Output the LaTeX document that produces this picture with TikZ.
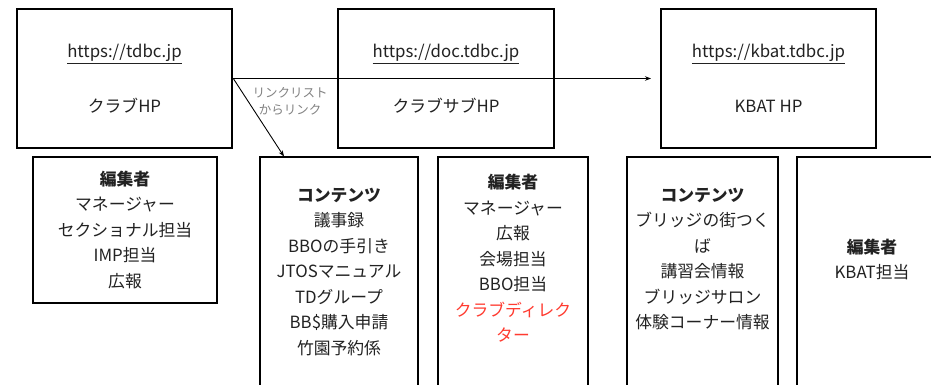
\documentclass[tikz,border=0pt]{standalone}
\usepackage{fontspec}
\setmainfont{Noto Sans CJK JP}
\usetikzlibrary{arrows.meta}
\definecolor{txt}{RGB}{34,34,34}
\definecolor{redtxt}{RGB}{255,59,48}
\definecolor{labelgray}{RGB}{130,130,130}
\tikzset{
  boxnode/.style={draw=black, line width=2.6pt, inner sep=0pt, rectangle},
  bodytext/.style={align=center, text=txt, inner sep=0pt, font=\fontsize{16.8}{25.5}\selectfont},
  linktext/.style={align=center, text=labelgray, inner sep=0pt, font=\fontsize{12.5}{17}\selectfont},
  conn/.style={line width=0.9pt, draw=black, -{Stealth[length=6pt,width=4.5pt]}},
}
\begin{document}
\begin{tikzpicture}[x=1pt,y=-1pt]
\useasboundingbox (0,0) rectangle (931,384);
\clip (0,0) rectangle (931,384);
\fill[white] (0,0) rectangle (931,384);
% top boxes
\node[boxnode, minimum width=215pt, minimum height=139pt] (hpA) at (124.5,78.5) {};
\node[boxnode, minimum width=216pt, minimum height=139pt] (hpB) at (446,78.5) {};
\node[boxnode, minimum width=215pt, minimum height=139pt] (hpC) at (768.5,78.5) {};
\node[bodytext] (urlA) at (124.5,54) {\underline{https://tdbc.jp}};
\node[bodytext] (nameA) at (124.5,106) {クラブHP};
\node[bodytext] (urlB) at (446,54) {\underline{https://doc.tdbc.jp}};
\node[bodytext] (nameB) at (446,106) {クラブサブHP};
\node[bodytext] (urlC) at (768.5,54) {\underline{https://kbat.tdbc.jp}};
\node[bodytext] (nameC) at (768.5,106) {KBAT HP};
% bottom boxes
\node[boxnode, minimum width=184pt, minimum height=146pt] (edA) at (125,230) {};
\node[boxnode, minimum width=158pt, minimum height=243pt] (conA) at (339,278.5) {};
\node[boxnode, minimum width=150pt, minimum height=243pt] (edB) at (513,278.5) {};
\node[boxnode, minimum width=151pt, minimum height=243pt] (conC) at (702.5,278.5) {};
\node[boxnode, minimum width=163pt, minimum height=243pt] (edC) at (878.5,278.5) {};
% texts
\node[bodytext] (tedA) at (125,229.5) {\textbf{編集者}\\マネージャー\\セクショナル担当\\IMP担当\\広報};
\node[bodytext] (tconA) at (339,272) {\textbf{コンテンツ}\\議事録\\BBOの手引き\\JTOSマニュアル\\TDグループ\\BB\$購入申請\\竹園予約係};
\node[bodytext] (tedB) at (513,258.5) {\textbf{編集者}\\マネージャー\\広報\\会場担当\\BBO担当\\\textcolor{redtxt}{クラブディレク}\\\textcolor{redtxt}{ター}};
\node[bodytext] (tconC) at (702.5,259) {\textbf{コンテンツ}\\ブリッジの街つく\\ば\\講習会情報\\ブリッジサロン\\体験コーナー情報};
\node[bodytext] (tedC) at (872,259.5) {\textbf{編集者}\\KBAT担当};
% connectors
\coordinate (start) at (hpA.east);
\coordinate (endC) at (651,78.5);
\coordinate (endE) at (284,156.5);
\draw[conn] (start) -- (endC);
\draw[conn] (start) -- (endE);
\node[linktext] (lbl) at (290,101.5) {リンクリスト\\からリンク};
\end{tikzpicture}
\end{document}
